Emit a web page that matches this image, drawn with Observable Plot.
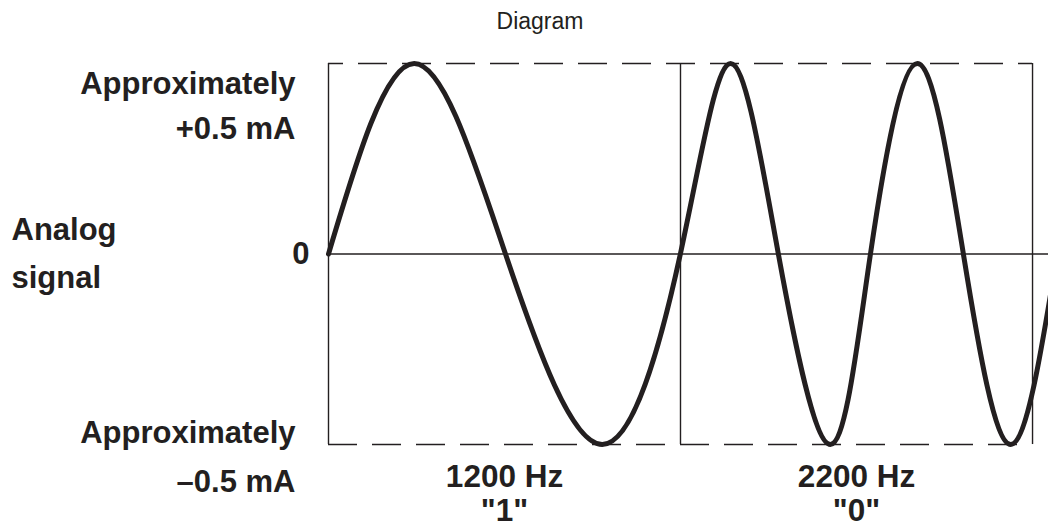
<!DOCTYPE html>
<html>
<head>
<meta charset="utf-8">
<script src="https://cdn.jsdelivr.net/npm/d3@7"></script>
<script src="https://cdn.jsdelivr.net/npm/@observablehq/plot@0.6"></script>
<style>
  html, body { margin: 0; padding: 0; background: #fff; }
  #title { height: 40px; width: 1048px; position: relative; font-family: "Liberation Sans", Arial, Helvetica, sans-serif; font-size: 23px; color: #231f20; }
  #title span { position: absolute; left: 540px; top: 8px; transform: translateX(-50%); white-space: nowrap; line-height: 26px; }
</style>
</head>
<body>
<div id="title"><span>Diagram</span></div>
<div id="chart"></div>
<script>
// Time in ms (one bit = 1/1200 s = 0.8333 ms), current in mA (key points)
const timeMs    = [0, 0.203, 0.419, 0.648, 0.833, 0.952, 1.065, 1.188, 1.283, 1.394, 1.503, 1.615, 1.725];
const currentMA = [0, 0.5,   0,    -0.5,   0,     0.5,   0,    -0.5,   0,     0.5,   0,    -0.5,   0];

const bitEdgesMs   = [0, 0.8333, 1.6667];
const bitCentersMs = [0.4167, 1.25];
const bitFreqLabels = ["1200 Hz", "2200 Hz"];
const bitValueLabels = ['"1"', '"0"'];

const levelValues = [0.5, -0.5];
const levelLabels = ["Approximately\n+0.5 mA", "Approximately\n\u20130.5 mA"];
const zeroLabel = "0";
const axisLabel = "Analog\nsignal";

const xMax = 1.7045;
const ink = "#231f20";
const font = '"Liberation Sans", Arial, Helvetica, sans-serif';

const wave = timeMs.map((t, i) => ({t, v: currentMA[i]}));
const bits = bitCentersMs.map((c, i) => ({c, label: bitFreqLabels[i] + "\n" + bitValueLabels[i]}));

const chart = Plot.plot({
  width: 1048,
  height: 488,
  marginLeft: 328,
  marginRight: 0,
  marginTop: 23,
  marginBottom: 84,
  style: {fontFamily: font, background: "white", color: ink},
  x: {domain: [0, xMax], axis: null},
  y: {domain: [-0.5, 0.5], axis: null},
  marks: [
    Plot.ruleY([0], {x1: 0, x2: xMax, stroke: ink, strokeWidth: 1.4}),
    Plot.ruleX(bitEdgesMs, {y1: -0.5, y2: 0.5, stroke: ink, strokeWidth: 1.4}),
    Plot.ruleY([0.5], {x1: 0, x2: bitEdgesMs[2], stroke: ink, strokeWidth: 1.4, strokeDasharray: "29,15", strokeDashoffset: 14}),
    Plot.ruleY([-0.5], {x1: 0, x2: bitEdgesMs[2], stroke: ink, strokeWidth: 1.4, strokeDasharray: "29,15"}),
    Plot.line(wave, {x: "t", y: "v", curve: "natural", stroke: ink, strokeWidth: 5}),
    Plot.text([levelLabels[0]], {y: levelValues[0], frameAnchor: "left", text: d => d, dx: -33, dy: -1, textAnchor: "end", lineAnchor: "top", lineHeight: 1.45, fontSize: 31, fontWeight: "bold", fill: ink}),
    Plot.text([levelLabels[1]], {y: levelValues[1], frameAnchor: "left", text: d => d, dx: -33, dy: -36, textAnchor: "end", lineAnchor: "top", lineHeight: 1.58, fontSize: 31, fontWeight: "bold", fill: ink}),
    Plot.text([zeroLabel], {y: 0, frameAnchor: "left", text: d => d, dx: -19, textAnchor: "end", lineAnchor: "middle", fontSize: 31, fontWeight: "bold", fill: ink}),
    Plot.text([axisLabel], {y: 0, frameAnchor: "left", text: d => d, dx: -317, dy: -48, textAnchor: "start", lineAnchor: "top", lineHeight: 1.55, fontSize: 31, fontWeight: "bold", fill: ink}),
    Plot.text(bits, {x: "c", y: -0.5, text: "label", dy: 18, lineAnchor: "top", lineHeight: 1.08, fontSize: 31.5, fontWeight: "bold", fill: ink})
  ]
});
document.getElementById("chart").appendChild(chart);
</script>
</body>
</html>
